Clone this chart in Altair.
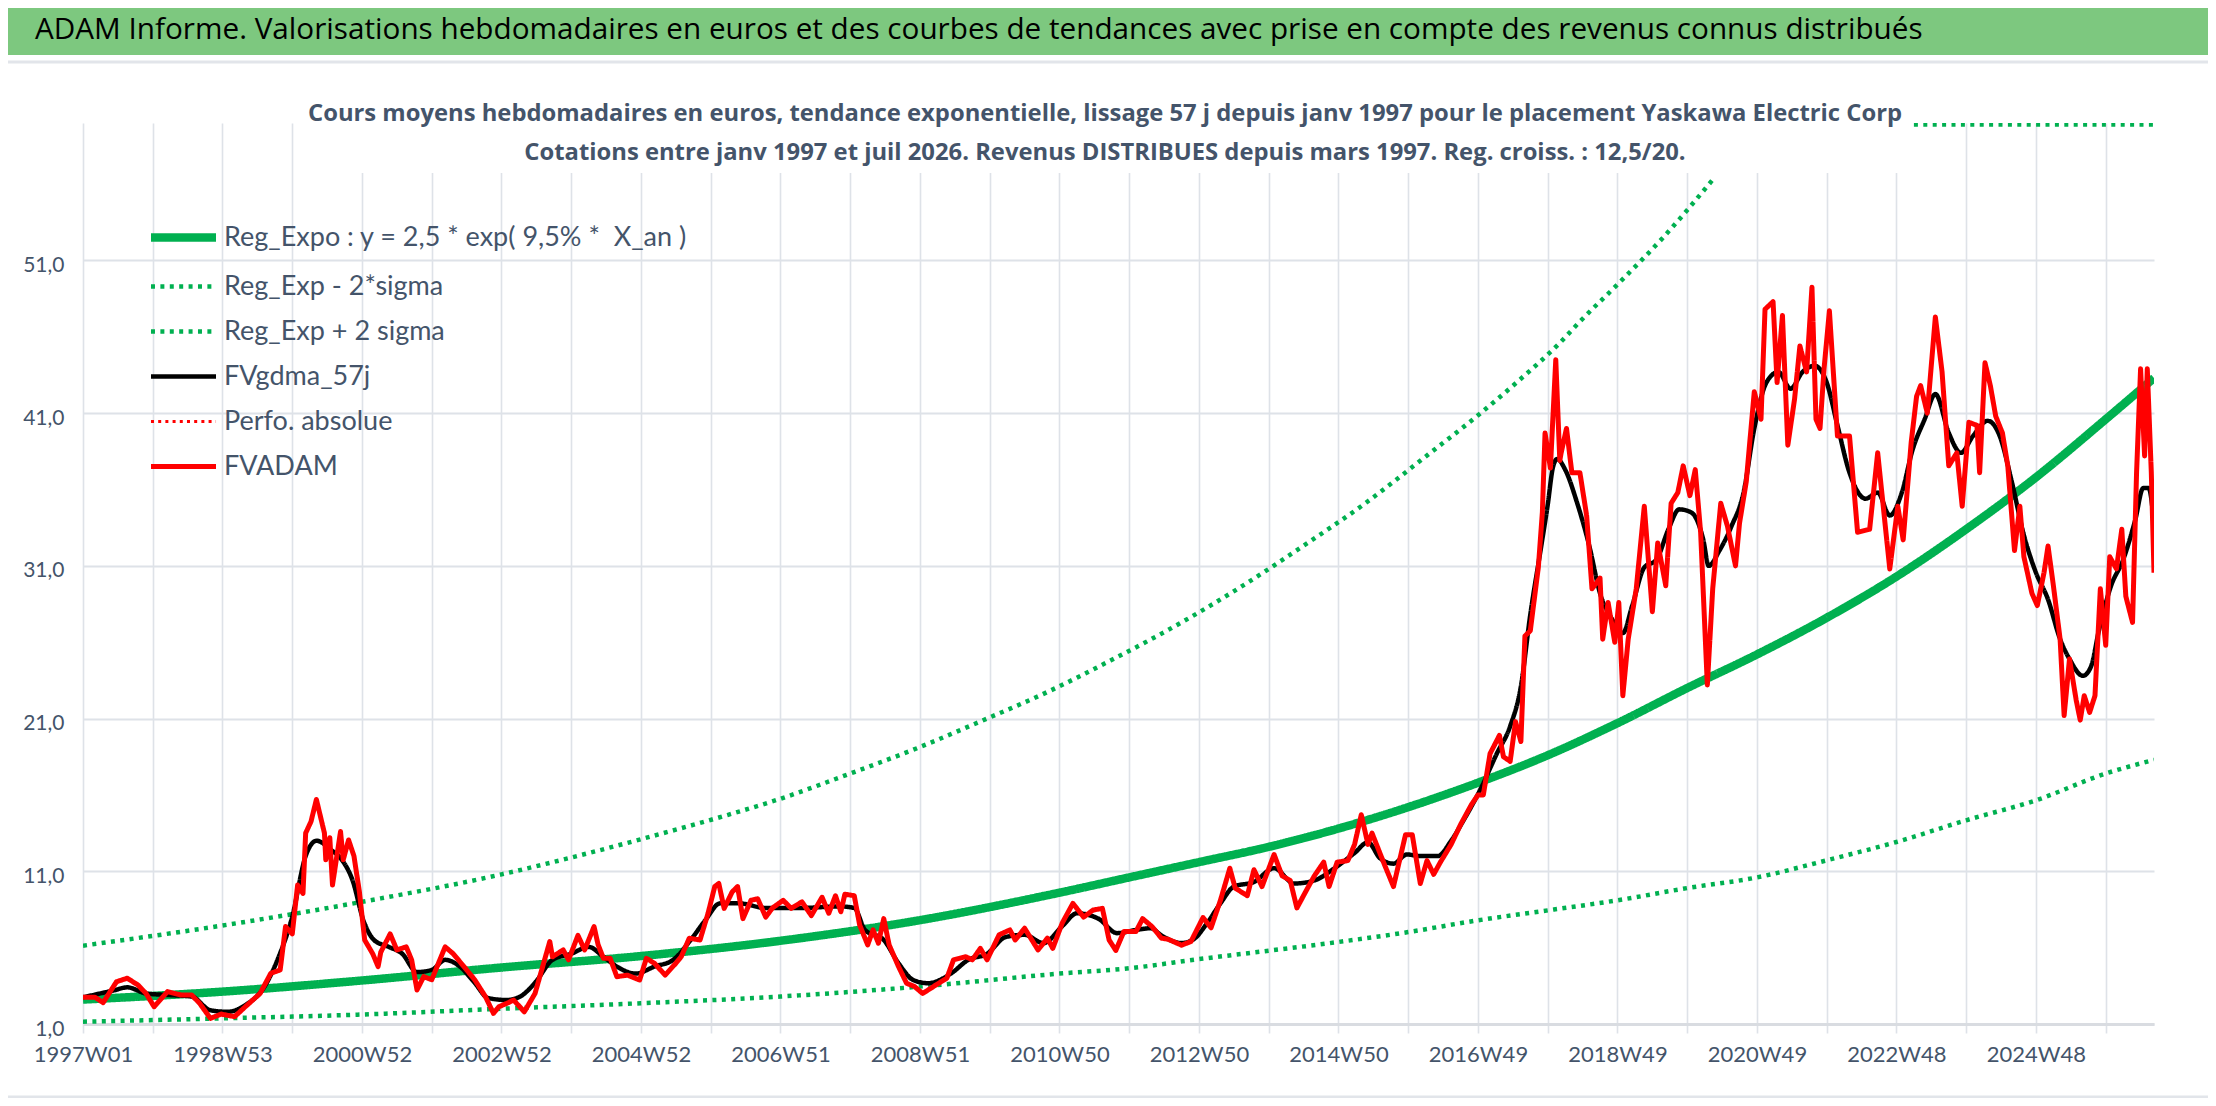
import json
import altair as alt
import pandas as pd

HEADER = ("ADAM Informe. Valorisations hebdomadaires en euros et des courbes de tendances "
          "avec prise en compte des revenus connus distribués")
SUB1 = ("Cours moyens hebdomadaires en euros, tendance exponentielle, lissage 57 j depuis "
        "janv 1997 pour le placement Yaskawa Electric Corp")
SUB2 = ("Cotations entre janv 1997 et juil 2026. Revenus DISTRIBUES depuis mars 1997. "
        "Reg. croiss. : 12,5/20.")

SERIES = ["Reg_Expo : y = 2,5 * exp( 9,5% *\u00a0 X_an )", "Reg_Exp - 2*sigma",
          "Reg_Exp + 2 sigma", "FVgdma_57j", "Perfo. absolue", "FVADAM"]
COLORS = ["#00B050", "#00B050", "#00B050", "#000000", "#FF0000", "#FF0000"]
DASHES = [[1, 0], [4, 5.4], [4, 5.4], [1, 0], [3, 4.2], [1, 0]]
WIDTHS = [8.5, 4.5, 4.5, 4.5, 3, 5]

X_LABELS = ["1997W01", "1998W53", "2000W52", "2002W52", "2004W52", "2006W51", "2008W51",
            "2010W50", "2012W50", "2014W50", "2016W49", "2018W49", "2020W49", "2022W48",
            "2024W48"]
X_TICKS = list(range(0, 1509, 52))
Y_TICKS = [1, 11, 21, 31, 41, 51]
N_LAST = 1544

# Reg_Expo (week index, value)
REG_W = [0, 104, 208, 312, 416, 520, 624, 728, 780, 832, 884, 936, 988, 1040, 1092, 1144,
         1196, 1248, 1300, 1352, 1404, 1456, 1508, 1544]
REG_V = [2.6, 3.12, 3.85, 4.7, 5.45, 6.45, 7.8, 9.6, 10.6, 11.6, 12.6, 13.8, 15.2, 16.8,
         18.6, 20.7, 23.0, 25.2, 27.6, 30.3, 33.4, 36.8, 40.6, 43.3]

# Reg_Exp - 2*sigma
LOW_W = [0, 104, 208, 312, 416, 520, 624, 728, 780, 832, 884, 936, 988, 1040, 1092, 1144,
         1196, 1248, 1300, 1352, 1404, 1456, 1508, 1544]
LOW_V = [1.15, 1.37, 1.62, 2.0, 2.36, 2.8, 3.45, 4.3, 4.65, 5.25, 5.8, 6.37, 7.02, 7.79,
         8.44, 9.1, 9.9, 10.6, 11.72, 12.92, 14.34, 15.65, 17.4, 18.3]

# Reg_Exp + 2 sigma (visible part, then the part running along the top edge)
UP_W = [0, 104, 208, 312, 364, 416, 481, 513, 575, 623, 670, 718, 766, 813, 861, 908, 956,
        1003, 1042, 1070, 1101, 1116, 1146, 1178, 1217]
UP_V = [6.13, 7.45, 9.0, 10.8, 11.9, 13.1, 14.7, 15.55, 17.5, 19.1, 20.85, 22.7, 24.8, 27.0,
        29.5, 32.2, 35.1, 38.3, 41.0, 43.1, 45.6, 47.0, 49.6, 52.5, 56.5]
UP_TOP_W = [1365, 1544]
UP_TOP_V = [59.9, 59.9]

# FVgdma_57j
BLK_W = [0, 23, 33, 47, 63, 81, 95, 108, 121, 135, 145, 156, 166, 174, 185, 193, 201, 209,
         217, 228, 238, 249, 260, 270, 281, 292, 302, 316, 326, 337, 350, 364, 377, 388, 398,
         412, 426, 440, 453, 464, 475, 489, 509, 536, 564, 575, 583, 597, 608, 619, 630, 647,
         660, 674, 688, 702, 716, 730, 741, 757, 771, 785, 796, 804, 819, 828, 838, 848, 858,
         873, 888, 903, 918, 933, 948, 958, 967, 977, 987, 997, 1010, 1020, 1029, 1042, 1054,
         1064, 1072, 1079, 1087, 1092, 1096, 1099, 1105, 1114, 1123, 1131, 1140, 1148, 1155,
         1164, 1173, 1182, 1190, 1199, 1208, 1212, 1220, 1229, 1238, 1246, 1255, 1264, 1273,
         1282, 1291, 1300, 1308, 1317, 1329, 1338, 1347, 1356, 1364, 1373, 1381, 1391, 1400,
         1409, 1420, 1429, 1438, 1447, 1456, 1465, 1474, 1481, 1491, 1497, 1503, 1512, 1521,
         1530, 1536, 1540, 1544]
BLK_V = [2.75, 3.2, 3.4, 3.0, 2.9, 2.8, 1.9, 1.8, 2.24, 3.4, 5.2, 8.03, 12.0, 13.0, 12.4,
         11.75, 10.4, 7.8, 6.5, 6.05, 5.6, 4.4, 4.54, 5.2, 4.76, 3.7, 2.7, 2.57, 2.8, 3.7, 5.2,
         5.6, 6.05, 5.4, 4.76, 4.3, 4.76, 5.2, 6.5, 7.8, 8.9, 8.9, 8.6, 8.6, 8.7, 8.6, 7.16,
         6.5, 4.98, 3.88, 3.67, 4.3, 5.2, 5.6, 6.7, 6.84, 6.3, 7.4, 8.25, 7.9, 6.95, 7.16, 7.27,
         6.8, 6.3, 6.55, 7.6, 8.9, 10.0, 10.3, 11.2, 10.2, 10.4, 11.2, 12.2, 12.9, 11.85, 11.5,
         12.1, 12.0, 12.0, 13.0, 14.3, 16.4, 18.7, 20.5, 23.1, 27.8, 32.2, 35.0, 37.5, 38.0,
         37.3, 35.1, 32.3, 29.2, 27.5, 26.6, 28.4, 30.9, 31.4, 33.4, 34.7, 34.5, 32.7, 31.0,
         32.0, 33.6, 35.8, 40.0, 43.0, 43.7, 42.6, 43.7, 44.1, 43.0, 40.2, 37.1, 35.4, 35.8,
         34.3, 35.8, 38.6, 40.6, 42.25, 39.7, 38.4, 39.5, 40.5, 39.5, 36.5, 33.0, 30.55, 28.8,
         26.2, 24.9, 23.8, 24.4, 26.8, 29.7, 31.4, 34.0, 36.1, 36.1, 33.8]

# FVADAM
RED_W = [0, 9, 15, 25, 33, 41, 47, 53, 63, 73, 81, 87, 95, 103, 113, 121, 132, 140, 147, 151,
         156, 160, 164, 166, 170, 174, 180, 181, 184, 186, 192, 194, 198, 202, 206, 210, 216,
         220, 222, 229, 234, 241, 245, 249, 254, 260, 265, 270, 276, 284, 292, 300, 306, 310,
         316, 321, 329, 337, 348, 350, 358, 362, 369, 374, 381, 384, 388, 393, 398,
         406, 415, 420, 426, 434, 442, 446, 452, 460, 466, 471, 474, 478, 484, 488, 492, 498,
         503, 509, 514, 522, 528, 536, 543, 551, 556, 561, 565, 568, 575, 579, 585, 589, 593,
         597, 601, 608, 614, 620, 626, 636, 644, 649, 658, 663, 669, 674, 683, 691, 695, 702,
         712, 719, 723, 730, 738, 746, 753, 760, 765, 770, 776, 785, 790, 797, 804,
         809, 819, 826, 835, 841, 848, 855, 859, 868, 873, 879, 888, 894, 900, 905, 913, 918,
         925, 929, 935, 943, 948, 953, 958, 961, 970, 977, 986, 991, 997, 1002, 1007, 1012,
         1020, 1027, 1035, 1040, 1044, 1049, 1056, 1059, 1064, 1068, 1072, 1075, 1079, 1085,
         1088, 1090, 1094, 1098, 1101,
         1102, 1106, 1110, 1116, 1121, 1125, 1131, 1133, 1137, 1142, 1145, 1148, 1152, 1158,
         1164, 1170, 1174, 1180, 1184, 1189, 1193, 1198, 1202, 1206, 1211, 1215, 1221, 1226,
         1232, 1235, 1240, 1246, 1251, 1254, 1260, 1263, 1267, 1271, 1276, 1280, 1285, 1289,
         1292, 1295, 1298, 1302, 1308, 1317, 1323, 1332, 1338, 1347, 1353, 1357, 1363, 1367,
         1370, 1375, 1381, 1386, 1391, 1397, 1401, 1406, 1412, 1414, 1418, 1422, 1426, 1431,
         1435, 1440, 1444, 1447, 1453, 1457, 1462, 1465, 1469, 1474, 1477, 1481, 1486, 1489,
         1492, 1496, 1500, 1504, 1508, 1511, 1516, 1520, 1523, 1528, 1531, 1534, 1537, 1539,
         1542, 1544]
RED_V = [2.75, 2.75, 2.4, 3.77, 4.0, 3.55, 3.0, 2.13, 3.12, 2.9, 2.9, 2.35, 1.37, 1.65, 1.48,
         2.13, 3.0, 4.32, 4.54, 7.38, 6.9, 10.1, 9.55, 13.5, 14.26, 15.7, 13.5, 11.75, 13.2,
         10.1, 13.6, 11.75, 13.05, 12.0, 9.7, 6.5, 5.6, 4.76, 5.7, 6.9, 5.85, 6.05, 5.2, 3.23,
         4.1, 3.9, 4.98, 6.05, 5.6, 4.76, 3.9, 2.8, 1.7, 2.13, 2.35, 2.57, 1.8, 3.0, 6.4, 5.4,
         5.85, 5.2, 6.8, 5.85, 7.38, 6.2, 5.3, 5.3, 4.1,
         4.2, 3.88, 5.3, 4.98, 4.2, 4.98, 5.41, 6.62, 6.5, 8.25, 10.0, 10.2, 8.57, 9.65, 10.0,
         7.9, 9.1, 9.2, 8.0, 8.6, 9.1, 8.57, 9.0, 8.1, 9.3, 8.25, 9.4, 8.35, 9.5, 9.4, 7.49,
         6.18, 7.16, 6.29, 7.9, 6.18, 4.76, 3.67, 3.45, 3.0, 3.56, 4.0, 5.2, 5.41, 5.2, 5.95,
         5.2, 6.84, 7.16, 6.5, 7.27, 5.85, 6.62, 5.95, 7.6, 8.9, 8.0, 8.46, 8.57, 6.5, 5.82,
         7.05, 7.05, 7.9, 7.38, 6.62,
         6.55, 6.16, 6.4, 7.97, 7.3, 9.1, 11.2, 9.9, 9.4, 11.1, 10.0, 12.1, 10.7, 10.4, 8.6,
         9.9, 10.7, 11.6, 10.0, 11.6, 11.7, 12.76, 14.7, 12.76, 13.5, 11.5, 10.0, 13.4, 13.4,
         10.2, 11.7, 10.8, 11.6, 12.76, 14.05, 15.35, 16.0, 16.0, 18.7, 19.9, 18.5, 18.2, 20.8,
         19.5, 26.4, 26.75, 30.9, 34.5, 39.7, 37.4, 44.5, 37.9,
         38.4, 40.0, 37.1, 37.1, 34.3, 29.5, 30.2, 26.2, 28.6, 26.0, 28.6, 22.5, 26.2, 29.5,
         34.9, 28.0, 32.5, 29.7, 35.1, 35.8, 37.55, 35.6, 37.3, 33.2, 23.2, 29.5, 35.1, 33.6,
         31.0, 33.8, 36.5, 42.4, 40.6, 47.8, 48.3, 43.0, 47.4, 38.9, 41.9, 45.4, 43.7, 49.25,
         40.6, 40.0, 43.9, 47.7, 39.5, 39.5, 33.2, 33.4, 38.4, 30.8, 34.9, 32.7, 39.1, 42.1,
         42.8, 41.0, 47.3, 43.7, 37.55, 38.4, 34.9, 40.4, 40.2, 37.1, 44.3, 42.8, 40.8, 39.7,
         37.55, 32.0, 34.9, 31.6, 29.2, 28.4, 30.55, 32.3, 29.7, 26.2, 21.2, 24.9, 22.2, 20.9,
         22.5, 21.4, 22.5, 29.5, 25.8, 31.6, 30.8, 33.4, 29.0, 27.3, 37.1, 43.9, 38.2, 43.9,
         37.1, 30.55]

# ---------------------------------------------------------------- data table
rows = []


def add(name, weeks, vals, seg=0):
    for w, v in zip(weeks, vals):
        rows.append({"series": name, "week": w, "value": v, "seg": seg})


add(SERIES[0], REG_W, REG_V)
add(SERIES[1], LOW_W, LOW_V)
add(SERIES[2], UP_W, UP_V, 0)
add(SERIES[2], UP_TOP_W, UP_TOP_V, 1)
add(SERIES[3], BLK_W, BLK_V)
add(SERIES[5], RED_W, RED_V)
df = pd.DataFrame(rows)

TXT = "#44546A"
GRID = "#DEE2E8"
BAND = "#7DC87F"

x_label_expr = ("datum.value % 104 == 0 ? " + json.dumps(X_LABELS)
                + "[datum.value / 104] : ''")

leg = alt.Legend(
    title=None, orient="none", legendX=85, legendY=99,
    symbolType="M-3,0H3", symbolSize=470, labelOffset=25,
    labelFont="Lato", labelFontSize=27, labelColor=TXT, rowPadding=17,
    symbolOpacity=1, labelLimit=800,
)

enc = dict(
    x=alt.X("week:Q", title=None,
            scale=alt.Scale(domain=[0, N_LAST], nice=False, zero=False),
            axis=alt.Axis(values=X_TICKS, labelExpr=x_label_expr, grid=True,
                          gridColor=GRID, gridWidth=1.6, domainColor="#D9DCE1",
                          domainWidth=3, tickColor=GRID, tickWidth=1.6, tickSize=9,
                          labelFont="Lato", labelFontSize=22, labelColor=TXT,
                          labelPadding=11, labelFlush=False, labelOverlap=False)),
    y=alt.Y("value:Q", title=None,
            scale=alt.Scale(domain=[1, 60], nice=False, zero=False, clamp=True),
            axis=alt.Axis(values=Y_TICKS,
                          labelExpr="replace(format(datum.value, '.1f'), '.', ',')",
                          grid=True, gridColor=GRID, gridWidth=2.2, domain=False,
                          ticks=False, labelFont="Lato", labelFontSize=21,
                          labelColor=TXT, labelPadding=19, labelOffset=5)),
    color=alt.Color("series:N", title=None,
                    scale=alt.Scale(domain=SERIES, range=COLORS), legend=leg),
    strokeDash=alt.StrokeDash("series:N", title=None,
                              scale=alt.Scale(domain=SERIES, range=DASHES), legend=leg),
    strokeWidth=alt.StrokeWidth("series:N", title=None,
                                scale=alt.Scale(type="ordinal", domain=SERIES,
                                                range=WIDTHS), legend=leg),
    detail="seg:N",
)

base = alt.Chart(df)
interp = {SERIES[0]: "monotone", SERIES[1]: "monotone", SERIES[2]: "monotone",
          SERIES[3]: "monotone", SERIES[5]: "linear"}
line_layers = []
for name in [SERIES[0], SERIES[1], SERIES[2], SERIES[3], SERIES[5]]:
    line_layers.append(
        base.transform_filter(alt.datum.series == name)
        .mark_line(interpolate=interp[name], strokeJoin="round", clip=True)
        .encode(**enc)
    )

one = pd.DataFrame({"h": [HEADER], "s1": [SUB1], "s2": [SUB2]})
deco = alt.Chart(one)
band = deco.mark_rect(color=BAND).encode(
    x=alt.value(-80), x2=alt.value(2127), y=alt.value(-120), y2=alt.value(-68))
band_line = deco.mark_rule(color="#E2E5EA", strokeWidth=3).encode(
    x=alt.value(-83), x2=alt.value(2125), y=alt.value(-61))
bottom_line = deco.mark_rule(color="#E2E5EA", strokeWidth=3).encode(
    x=alt.value(-83), x2=alt.value(2125), y=alt.value(974))
title_box = deco.mark_rect(color="#FFFFFF").encode(
    x=alt.value(215), x2=alt.value(1830), y=alt.value(-30), y2=alt.value(50))
header = deco.mark_text(align="left", baseline="alphabetic", font="Open Sans",
                        fontSize=29.7, color="#000000").encode(
    text="h:N", x=alt.value(-48), y=alt.value(-84))
sub1 = deco.mark_text(align="center", baseline="middle", font="Open Sans",
                      fontSize=23.8, fontWeight="bold", color=TXT).encode(
    text="s1:N", x=alt.value(1022), y=alt.value(-9))
sub2 = deco.mark_text(align="center", baseline="middle", font="Open Sans",
                      fontSize=23.8, fontWeight="bold", color=TXT).encode(
    text="s2:N", x=alt.value(1022), y=alt.value(30))

chart = alt.layer(band, band_line, bottom_line, title_box, *line_layers,
                  header, sub1, sub2).properties(
    width=2071, height=901,
    padding={"left": 75, "top": 115, "right": 54, "bottom": 74},
    autosize=alt.AutoSizeParams(type="none"),
    background="white",
).configure_view(stroke=None)

chart.save("out.html", embed_options={"renderer": "svg", "actions": False})
